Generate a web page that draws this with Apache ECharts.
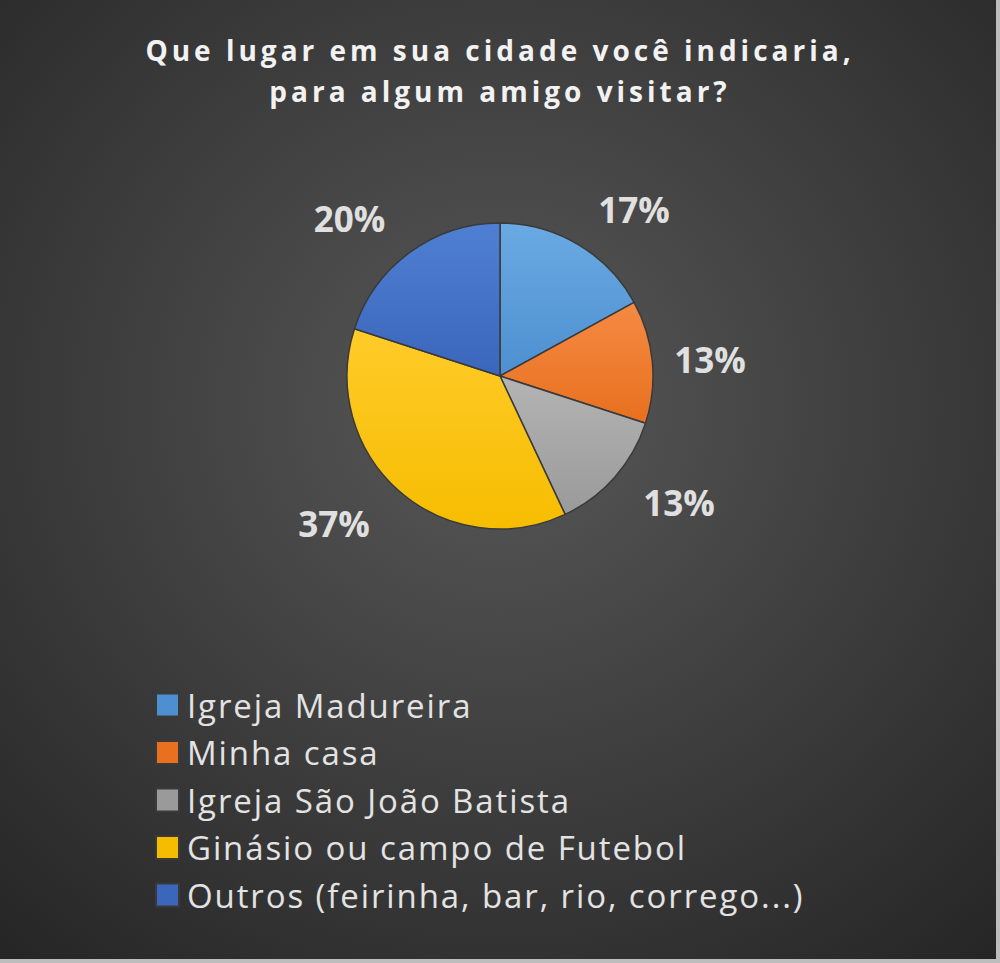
<!DOCTYPE html>
<html>
<head>
<meta charset="utf-8">
<script src="https://cdn.jsdelivr.net/npm/echarts@6/dist/echarts.min.js"></script>
<style>html,body{margin:0;padding:0;background:#262626}#c{width:1000px;height:963px}</style>
</head>
<body>
<div id="c"></div>
<script>
const titleLines = ['Que lugar em sua cidade você indicaria,', 'para algum amigo visitar?'];
const categories = ['Igreja Madureira', 'Minha casa', 'Igreja São João Batista', 'Ginásio ou campo de Futebol', 'Outros (feirinha, bar, rio, corrego...)'];
const values = [17, 13, 13, 37, 20];
const colorsTop = ['#6aaae3', '#f58a43', '#b4b4b4', '#ffcb2a', '#4f7fd3'];
const colorsBottom = ['#4d8fd0', '#e8701f', '#9a9a9a', '#f6bd00', '#3a66bb'];
const labelGaps = [40, 22, 38, 44, 42];

const chart = echarts.init(document.getElementById('c'), null, {renderer: 'svg'});
const data = categories.map((n, i) => ({
  name: n,
  value: values[i],
  labelLine: {length: labelGaps[i]},
  itemStyle: {
    color: {type: 'linear', x: 0, y: 0, x2: 0, y2: 1, colorStops: [{offset: 0, color: colorsTop[i]}, {offset: 1, color: colorsBottom[i]}]}
  }
}));
chart.setOption({
  animation: false,
  backgroundColor: {type: 'radial', x: 0.5, y: 0.42, r: 0.75, colorStops: [{offset: 0, color: '#585858'}, {offset: 1, color: '#262626'}]},
  title: {
    text: titleLines.join('\n'),
    left: 'center',
    top: 24,
    textStyle: {color: '#f2f2f2', fontFamily: 'Open Sans', fontWeight: 'bold', fontSize: 28, lineHeight: 41}
  },
  legend: {
    orient: 'vertical',
    left: 155,
    top: 687,
    padding: 0,
    itemWidth: 23,
    itemHeight: 23,
    itemGap: 11.5,
    icon: 'rect',
    textStyle: {color: '#e3e3e3', fontFamily: 'Open Sans', fontSize: 33, lineHeight: 36, padding: [0, 0, 0, 3]},
    data: categories.map((n, i) => ({name: n, itemStyle: {color: colorsBottom[i]}}))
  },
  graphic: [
    {type: 'rect', shape: {x: 996, y: 0, width: 4, height: 963}, style: {fill: '#bdbdbd'}},
    {type: 'rect', shape: {x: 0, y: 959, width: 1000, height: 4}, style: {fill: '#bdbdbd'}}
  ],
  series: [{
    type: 'pie',
    center: ['50%', 376],
    radius: 153,
    startAngle: 90,
    clockwise: true,
    avoidLabelOverlap: false,
    data: data,
    itemStyle: {borderColor: '#3a3a3a', borderWidth: 1.5},
    label: {
      show: true,
      position: 'outside',
      formatter: '{c}%',
      color: '#e0e0e0',
      fontFamily: 'Open Sans',
      fontWeight: 'bold',
      fontSize: 35,
      distanceToLabelLine: 0
    },
    labelLine: {show: false, length: 30, length2: 0},
    emphasis: {disabled: true}
  }]
});

function spaceText() {
  document.querySelectorAll('#c text').forEach(t => {
    const s = t.textContent;
    if (titleLines.indexOf(s) >= 0) t.style.letterSpacing = '4px';
    else if (categories.indexOf(s) >= 0) t.style.letterSpacing = '1.9px';
  });
}
chart.on('finished', spaceText);
spaceText();
setTimeout(spaceText, 50);
setTimeout(spaceText, 300);
</script>
</body>
</html>
